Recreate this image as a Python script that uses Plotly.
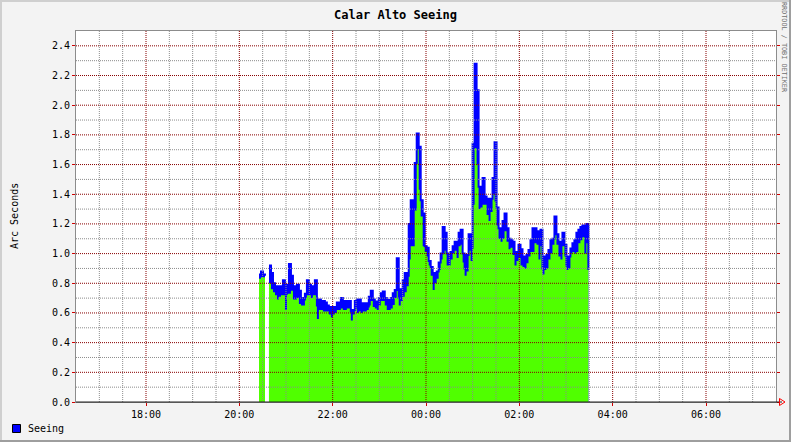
import pandas as pd
import plotly.graph_objects as go

# ---------------- data ----------------
seeing_high = [
    0.86, 0.88, 0.86, 0.85, None,
    0.92, 0.87, 0.80, 0.78, 0.755, 0.78, 0.77, 0.82, 0.73, 0.79,
    0.93, 0.85, 0.78, 0.76, 0.79, 0.75, 0.70, 0.69, 0.73, 0.82,
    0.79, 0.755, 0.78, 0.82, 0.65, 0.69, 0.65, 0.68, 0.67, 0.65,
    0.64, 0.62, 0.64, 0.64, 0.67, 0.65, 0.70, 0.68, 0.655,
    0.68, 0.68, 0.61, 0.62, 0.68, 0.69, 0.69, 0.655, 0.665, 0.665,
    0.643, 0.71, 0.75, 0.69, 0.677, 0.654, 0.70, 0.733, 0.744, 0.70,
    0.665, 0.688, 0.70, 0.733, 0.755, 0.968, 0.70, 0.76, 0.82, 0.87,
    0.85, 1.20, 1.36, 1.31, 1.61, 1.81, 1.72, 1.36, 1.27, 1.05,
    1.04, 0.95, 0.91, 0.87, 0.85, 0.88, 0.94, 1.00, 1.18, 1.14,
    1.00, 0.98, 1.01, 1.05, 1.08, 1.06, 1.14, 1.16, 1.00, 0.90,
    0.99, 1.13, 1.04, 1.74, 2.28, 2.10, 1.45, 1.40, 1.51, 1.385,
    1.37, 1.35, 1.37, 1.51, 1.75, 1.31, 1.17, 1.13, 1.22, 1.27,
    1.17, 1.10, 1.09, 1.08, 1.01, 0.99, 1.06, 1.03, 0.98, 0.96,
    0.99, 1.025, 1.09, 1.17, 1.17, 1.15, 1.09, 1.16, 0.90, 0.98,
    0.99, 1.025, 1.09, 1.10, 1.25, 1.13, 1.07, 1.08, 1.14, 1.06,
    0.92, 0.98, 1.035, 1.07, 1.09, 1.14, 1.16, 1.18, 1.19, 1.12,
    1.20, 0.89,
]
seeing_low = [
    0.83, 0.84, 0.84, 0.83, None,
    0.80, 0.76, 0.74, 0.72, 0.69, 0.71, 0.72, 0.72, 0.62, 0.73,
    0.73, 0.75, 0.69, 0.69, 0.70, 0.66, 0.65, 0.65, 0.70, 0.72,
    0.72, 0.70, 0.72, 0.72, 0.56, 0.62, 0.62, 0.61, 0.61, 0.61,
    0.59, 0.57, 0.59, 0.60, 0.62, 0.62, 0.63, 0.62, 0.62,
    0.63, 0.63, 0.55, 0.59, 0.63, 0.60, 0.61, 0.60, 0.61, 0.61,
    0.62, 0.65, 0.68, 0.64, 0.63, 0.62, 0.65, 0.68, 0.68, 0.65,
    0.62, 0.62, 0.63, 0.654, 0.70, 0.75, 0.65, 0.68, 0.71, 0.74,
    0.78, 0.96, 1.05, 1.05, 1.29, 1.70, 1.43, 1.25, 1.05, 1.01,
    0.98, 0.92, 0.85, 0.755, 0.80, 0.83, 0.89, 0.96, 1.00, 1.02,
    0.92, 0.92, 0.96, 1.00, 1.02, 0.97, 1.05, 1.06, 0.94, 0.85,
    0.88, 1.02, 0.95, 1.33, 1.71, 1.60, 1.30, 1.31, 1.33, 1.33,
    1.26, 1.22, 1.28, 1.40, 1.35, 1.19, 1.10, 1.08, 1.10, 1.15,
    1.08, 1.03, 1.04, 0.99, 0.92, 0.95, 0.97, 0.92, 0.91, 0.90,
    0.935, 0.98, 1.01, 1.01, 1.07, 1.06, 0.96, 1.05, 0.86, 0.89,
    0.90, 0.96, 1.00, 1.06, 1.14, 1.06, 0.98, 0.96, 1.05, 0.98,
    0.89, 0.90, 1.00, 1.01, 1.00, 1.01, 1.07, 1.09, 1.11, 1.00,
    1.07, 0.88,
]
assert len(seeing_high) == len(seeing_low)

sample_start = "2024-01-01 20:25:17"
sample_step = "154s"
times = pd.date_range(sample_start, periods=len(seeing_high), freq=sample_step)

x_range = ["2024-01-01 16:30", "2024-01-02 07:30"]
x_tick0 = "2024-01-01 18:00"
y_range = [0, 2.5]

title_text = "Calar Alto Seeing"
y_title = "Arc Seconds"
legend_label = "Seeing"
watermark = "RRDTOOL / TOBI OETIKER"

# ---------------- layout geometry ----------------
W, H = 791, 442
ML, MR, MT, MB = 76, 15, 31, 40
PW, PH = W - ML - MR, H - MT - MB


def px(X):
    return (X - ML) / PW


def py(Y):
    return (H - MB - Y) / PH


BLUE = "#0000ff"
GREEN = "#50ff00"
MGRID = "rgb(135,0,0)"
GRID = "rgb(140,140,140)"
FONT = "DejaVu Sans Mono"

# split the series at missing samples so each run is filled on its own
segments = []
cur = []
for i, (hi, lo) in enumerate(zip(seeing_high, seeing_low)):
    if hi is None:
        if cur:
            segments.append(cur)
        cur = []
    else:
        cur.append(i)
if cur:
    segments.append(cur)

fig = go.Figure()
for seg in segments:
    st = [times[i] for i in seg]
    fig.add_trace(go.Scatter(x=st, y=[seeing_high[i] for i in seg], mode="lines",
                             line=dict(color=BLUE, width=0, shape="hv"),
                             fill="tozeroy", fillcolor=BLUE, showlegend=False, hoverinfo="skip"))
    fig.add_trace(go.Scatter(x=st, y=[seeing_low[i] for i in seg], mode="lines",
                             line=dict(color=GREEN, width=0, shape="hv"),
                             fill="tozeroy", fillcolor=GREEN, showlegend=False, hoverinfo="skip"))
fig.add_trace(go.Scatter(x=times, y=seeing_high, mode="lines", line=dict(color=BLUE, width=2, shape="hv"),
                         connectgaps=False, name=legend_label, showlegend=False, hoverinfo="skip"))

tickfont = dict(family=FONT, size=10, color="black")

fig.update_layout(
    width=W, height=H, autosize=False,
    margin=dict(l=ML, r=MR, t=MT, b=MB, pad=0),
    paper_bgcolor="#f3f3f3", plot_bgcolor="white",
    showlegend=False,
    title=dict(text="<b>" + title_text + "</b>", x=0.5, xref="container", xanchor="center",
               y=1 - 14.5 / H, yref="container", yanchor="middle",
               font=dict(family=FONT, size=12, color="black")),
    xaxis=dict(type="date", range=x_range, tickformat="%H:%M", dtick=7200000, tick0=x_tick0,
               showgrid=False, zeroline=False,
               showline=True, linecolor="#8c8c8c", linewidth=1, mirror=True, layer="above traces",
               ticks="outside", ticklen=3, tickcolor="#d00000", tickwidth=1,
               tickfont=tickfont),
    yaxis=dict(range=y_range, dtick=0.2, tick0=0, tickformat=".1f",
               showgrid=False, zeroline=False,
               showline=True, linecolor="#8c8c8c", linewidth=1, mirror="ticks", layer="above traces",
               ticks="outside", ticklen=3, tickcolor="#d00000", tickwidth=1,
               tickfont=tickfont),
)

shapes = []
# grid drawn above the data, as in the reference
for t in pd.date_range(x_range[0], x_range[1], freq="30min")[1:-1]:
    major = (t.minute == 0 and t.hour % 2 == 0)
    shapes.append(dict(type="line", xref="x", yref="paper", x0=t, x1=t, y0=0, y1=1, layer="above",
                       line=dict(color=MGRID if major else GRID, width=1, dash="1px,1px")))
for i in range(1, 25):
    v = i / 10
    shapes.append(dict(type="line", xref="paper", yref="y", x0=0, x1=1, y0=v, y1=v, layer="above",
                       line=dict(color=MGRID if i % 2 == 0 else GRID, width=1, dash="1px,1px")))
shapes += [
    # outer 3D frame
    dict(type="line", xref="paper", yref="paper", x0=px(0), x1=px(W), y0=py(1), y1=py(1),
         line=dict(color="#cfcfcf", width=2)),
    dict(type="line", xref="paper", yref="paper", x0=px(1), x1=px(1), y0=py(0), y1=py(H),
         line=dict(color="#cfcfcf", width=2)),
    dict(type="line", xref="paper", yref="paper", x0=px(0), x1=px(W), y0=py(H - 1), y1=py(H - 1),
         line=dict(color="#9e9e9e", width=2)),
    dict(type="line", xref="paper", yref="paper", x0=px(W - 1), x1=px(W - 1), y0=py(0), y1=py(H),
         line=dict(color="#9e9e9e", width=2)),
    # x axis line with arrow
    dict(type="line", xref="paper", yref="paper", x0=0, x1=px(782), y0=0, y1=0,
         line=dict(color="#202020", width=1)),
    dict(type="path", xref="paper", yref="paper",
         path=f"M {px(779.5)},{py(398.5)} L {px(785)},{py(402)} L {px(779.5)},{py(405.5)} Z",
         line=dict(color="#ff0000", width=1), fillcolor="rgba(0,0,0,0)"),
    # legend swatch
    dict(type="rect", xref="paper", yref="paper", x0=px(12.5), x1=px(20.5), y0=py(424.5), y1=py(432.5),
         line=dict(color="black", width=1), fillcolor=BLUE),
]
fig.update_layout(shapes=shapes)

fig.add_annotation(text=y_title, xref="paper", yref="paper", x=px(14), y=py(216), textangle=-90,
                   showarrow=False, xanchor="center", yanchor="middle",
                   font=dict(family=FONT, size=10, color="black"))
fig.add_annotation(text=watermark, xref="paper", yref="paper", x=px(784), y=py(48), textangle=90,
                   showarrow=False, xanchor="center", yanchor="middle",
                   font=dict(family=FONT, size=6.8, color="#6e6e6e"))
fig.add_annotation(text=legend_label, xref="paper", yref="paper", x=px(26), y=py(428.5),
                   showarrow=False, xanchor="left", yanchor="middle",
                   font=dict(family=FONT, size=10, color="black"))

fig.write_html("out.html", config={"displayModeBar": False},
               post_script="document.body.style.margin='0px';")
